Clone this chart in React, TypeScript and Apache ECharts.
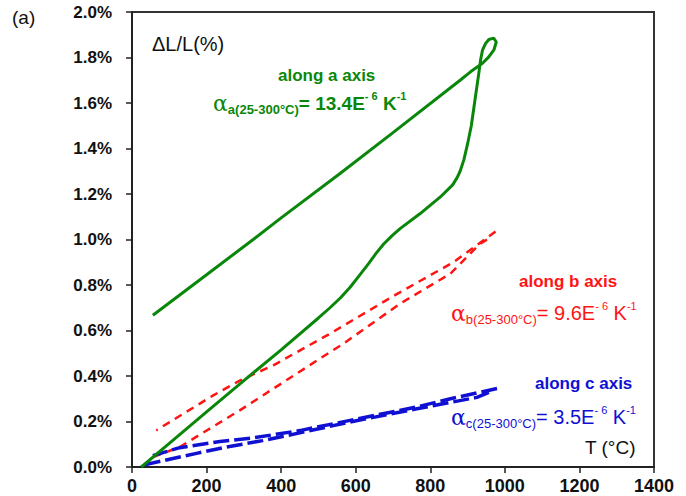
import React, { useEffect, useRef } from "react";
import * as echarts from "echarts";

// Temperature (°C) vs ΔL/L (%)
const greenA: [number, number][] = [
  [25, 0], [100, 0.104], [200, 0.242], [300, 0.38], [400, 0.515], [500, 0.655], [531, 0.7],
  [560, 0.745], [585, 0.79], [610, 0.842], [635, 0.895], [655, 0.94], [675, 0.98], [697, 1.016],
  [719, 1.048], [773, 1.114], [827, 1.187], [860, 1.24], [872, 1.272], [880, 1.3], [890, 1.35],
  [900, 1.42], [910, 1.5], [921, 1.626], [930, 1.729], [935, 1.79], [940, 1.832],
  [948, 1.861], [957, 1.879], [970, 1.885], [977, 1.868], [971, 1.835], [957, 1.803], [940, 1.775],
  [907, 1.736], [880, 1.7], [700, 1.47], [558, 1.29], [400, 1.095], [325, 1.0], [200, 0.845], [56, 0.667],
];
const redHeatB: [number, number][] = [
  [57, 0.044], [128, 0.088], [289, 0.249], [531, 0.505], [567, 0.542], [719, 0.718], [854, 0.85],
  [934, 0.982], [965, 1.012],
];
const redCoolB: [number, number][] = [
  [975, 1.035], [862, 0.9], [710, 0.76], [531, 0.586], [379, 0.447], [289, 0.38], [218, 0.315], [65, 0.161],
];
const blueHeatC: [number, number][] = [
  [34, 0.01], [173, 0.06], [254, 0.088], [350, 0.116], [450, 0.15], [585, 0.198], [764, 0.256],
  [925, 0.306], [965, 0.333],
];
const blueCoolC: [number, number][] = [
  [979, 0.345], [854, 0.3], [764, 0.264], [585, 0.205], [450, 0.16], [325, 0.128], [236, 0.112],
  [128, 0.085], [56, 0.05],
];

const xMin = 0, xMax = 1400, xStep = 200;
const yMin = 0, yMax = 2.0, yStep = 0.2;

const GREEN = "#0a870a";
const RED = "#ff1414";
const BLUE = "#1010d2";
const SANS = "Liberation Sans, Arial, sans-serif";
const SERIF = "DejaVu Serif, Liberation Serif, serif";

function alphaLine(sub: string, coef: string, color: string, bold: boolean, mainSize: number) {
  const w = bold ? "bold" : "normal";
  return {
    text: `{al|α}{sub|${sub}}{m|= ${coef}E}{sup|- 6}{m| K}{sup|-1}`,
    rich: {
      al: { fontFamily: SERIF, fontSize: 22, fill: color, lineHeight: 26, verticalAlign: "middle" },
      sub: { fontFamily: SANS, fontSize: 13, fontWeight: w, fill: color, lineHeight: 14, verticalAlign: "bottom" },
      m: { fontFamily: SANS, fontSize: mainSize, fontWeight: w, fill: color, lineHeight: 26, verticalAlign: "middle" },
      sup: { fontFamily: SANS, fontSize: 11, fontWeight: w, fill: color, lineHeight: 19, verticalAlign: "top" },
    },
  };
}

export default function App() {
  const ref = useRef<HTMLDivElement>(null);
  useEffect(() => {
    if (!ref.current) return;
    const chart = echarts.init(ref.current, null, { renderer: "svg" });
    chart.setOption({
      animation: false,
      backgroundColor: "#ffffff",
      grid: {
        left: 132, right: 32, top: 12, bottom: 29,
        show: true, borderColor: "#333", borderWidth: 2, backgroundColor: "transparent",
      },
      xAxis: {
        type: "value", min: xMin, max: xMax, interval: xStep,
        axisLine: { show: true, onZero: false, lineStyle: { color: "#222", width: 2 } },
        axisTick: { show: true, length: 6, lineStyle: { color: "#222", width: 1.5 } },
        axisLabel: {
          margin: 10, color: "#111", fontSize: 18, fontWeight: "bold", fontFamily: SANS,
          formatter: (v: number) => String(v),
        },
        splitLine: { show: false },
      },
      yAxis: {
        type: "value", min: yMin, max: yMax, interval: yStep,
        axisLine: { show: true, onZero: false, lineStyle: { color: "#222", width: 2 } },
        axisTick: { show: true, length: 6, lineStyle: { color: "#222", width: 1.5 } },
        axisLabel: {
          margin: 20, color: "#111", fontSize: 17, fontWeight: "bold", fontFamily: SANS,
          formatter: (v: number) => v.toFixed(1) + "%",
        },
        splitLine: { show: false },
      },
      series: [
        { type: "line", data: redHeatB, symbol: "none", lineStyle: { color: RED, width: 2.5, type: [8, 6] }, z: 2 },
        { type: "line", data: redCoolB, symbol: "none", lineStyle: { color: RED, width: 2.5, type: [8, 6] }, z: 2 },
        { type: "line", data: blueHeatC, symbol: "none", lineStyle: { color: BLUE, width: 3.5, type: [16, 5] }, z: 3 },
        { type: "line", data: blueCoolC, symbol: "none", lineStyle: { color: BLUE, width: 3.5, type: [16, 5] }, z: 3 },
        { type: "line", data: greenA, symbol: "none", lineStyle: { color: GREEN, width: 3 }, z: 4 },
      ],
      graphic: [
        { type: "text", left: 12, top: 8, style: { text: "(a)", fontFamily: SANS, fontSize: 19, fill: "#111" } },
        { type: "text", left: 152, top: 34, style: { text: "ΔL/L(%)", fontFamily: SANS, fontSize: 20, fill: "#111" } },
        { type: "text", left: 278, top: 67, style: { text: "along a axis", fontFamily: SANS, fontSize: 17, fontWeight: "bold", fill: GREEN } },
        { type: "text", left: 213, top: 90, style: alphaLine("a(25-300°C)", "13.4", GREEN, true, 19) },
        { type: "text", left: 519, top: 273, style: { text: "along b axis", fontFamily: SANS, fontSize: 17, fontWeight: "bold", fill: RED } },
        { type: "text", left: 451, top: 300, style: alphaLine("b(25-300°C)", "9.6", RED, false, 20) },
        { type: "text", left: 535, top: 375, style: { text: "along c axis", fontFamily: SANS, fontSize: 17, fontWeight: "bold", fill: BLUE } },
        { type: "text", left: 451, top: 404, style: alphaLine("c(25-300°C)", "3.5", BLUE, false, 20) },
        { type: "text", left: 585, top: 438, style: { text: "T (°C)", fontFamily: SANS, fontSize: 19, fill: "#111" } },
      ],
    });
    return () => chart.dispose();
  }, []);
  return (
    <div
      ref={ref}
      style={{ position: "fixed", left: 0, top: 0, width: 686, height: 496, background: "#fff" }}
    />
  );
}
